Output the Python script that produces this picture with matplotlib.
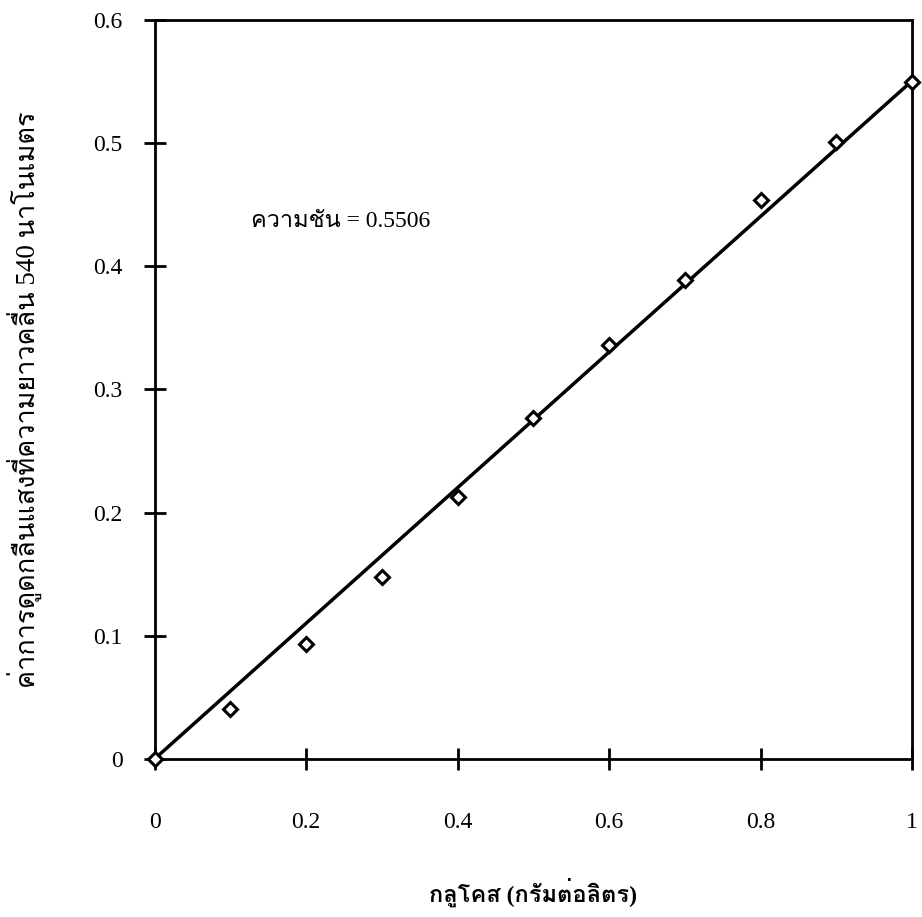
import matplotlib
matplotlib.use('Agg')
import matplotlib.pyplot as plt
from matplotlib import font_manager
from matplotlib.ft2font import FT2Font

# glucose standard curve (absorbance at 540 nm)
glucose = [0, 0.1, 0.2, 0.3, 0.4, 0.5, 0.6, 0.7, 0.8, 0.9, 1.0]
absorbance = [0, 0.041, 0.093, 0.148, 0.213, 0.277, 0.336, 0.389, 0.454, 0.501, 0.550]
slope = 0.5506
fit_x = [0, 1.0]

x_ticks = [0, 0.2, 0.4, 0.6, 0.8, 1.0]
x_ticklabels = ['0', '0.2', '0.4', '0.6', '0.8', '1']
y_ticks = [0, 0.1, 0.2, 0.3, 0.4, 0.5, 0.6]
y_ticklabels = ['0', '0.1', '0.2', '0.3', '0.4', '0.5', '0.6']

x_label = 'กลูโคส (กรัมต่อลิตร)'
y_label = 'ค่าการดูดกลืนแสงที่ความยาวคลื่น 540 นาโนเมตร'
slope_text = f'ความชัน = {slope}'


def find_thai_fonts():
    names = []
    for f in font_manager.fontManager.ttflist:
        try:
            if ord('ก') in FT2Font(f.fname).get_charmap():
                if f.name not in names:
                    names.append(f.name)
        except Exception:
            pass
    return names


thai = find_thai_fonts()
text_family = ['Liberation Serif'] + thai + ['DejaVu Sans']

plt.rcParams['font.family'] = text_family
plt.rcParams['font.size'] = 17

fig = plt.figure(figsize=(9.22, 9.17), dpi=100)
ax = fig.add_axes([0.1676, 0.1723, 0.8216, 0.8059])

ax.plot(fit_x, [slope * v for v in fit_x], color='black', linewidth=2.5, zorder=2)
ax.plot(glucose, absorbance, linestyle='none', marker='D', markersize=7.5,
        markerfacecolor='white', markeredgecolor='black', markeredgewidth=2.2,
        clip_on=False, zorder=3)

ax.set_xlim(0, 1)
ax.set_ylim(0, 0.6)
ax.set_xticks(x_ticks)
ax.set_xticklabels(x_ticklabels)
ax.set_yticks(y_ticks)
ax.set_yticklabels(y_ticklabels)
ax.tick_params(axis='x', direction='inout', length=16, width=2, pad=30, labelsize=17)
ax.tick_params(axis='y', direction='inout', length=16, width=2, pad=15, labelsize=17)
for s in ax.spines.values():
    s.set_linewidth(2)

ax.set_xlabel(x_label, fontsize=17, fontweight='bold')
ax.xaxis.set_label_coords(0.5, -0.16)
ax.set_ylabel(y_label, fontsize=19.5)
ax.yaxis.set_label_coords(-0.148, 0.486)
ax.text(0.128, 0.436, slope_text, fontsize=17, ha='left', va='center')

fig.savefig('out.png', dpi=100, facecolor='white')
